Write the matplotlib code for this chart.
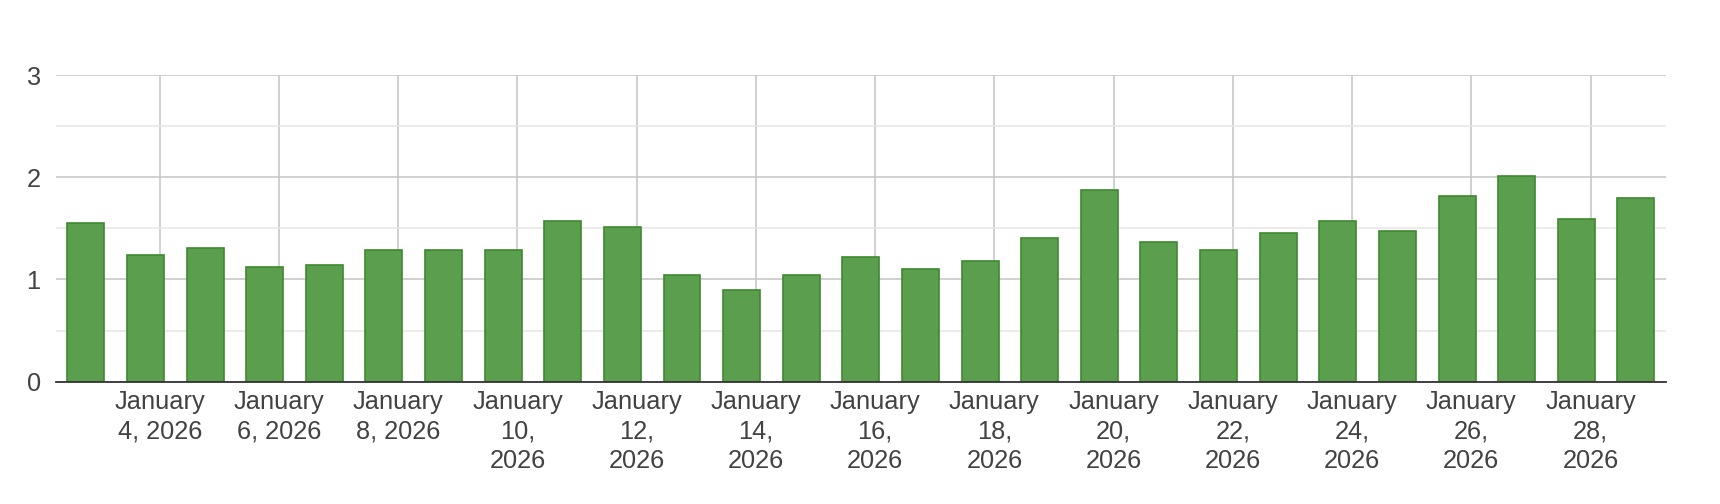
import matplotlib
matplotlib.use("Agg")
import matplotlib.pyplot as plt
from matplotlib.ticker import MultipleLocator

# data
days = list(range(3, 30))  # January 3 .. January 29, 2026
values = [1.55, 1.24, 1.31, 1.12, 1.14, 1.29, 1.29, 1.29, 1.57,
          1.51, 1.04, 0.90, 1.04, 1.22, 1.10, 1.18, 1.41, 1.88,
          1.37, 1.29, 1.45, 1.57, 1.47, 1.82, 2.01, 1.59, 1.80]
tick_days = [4, 6, 8, 10, 12, 14, 16, 18, 20, 22, 24, 26, 28]
tick_labels = ["January\n4, 2026", "January\n6, 2026", "January\n8, 2026",
               "January\n10,\n2026", "January\n12,\n2026", "January\n14,\n2026",
               "January\n16,\n2026", "January\n18,\n2026", "January\n20,\n2026",
               "January\n22,\n2026", "January\n24,\n2026", "January\n26,\n2026",
               "January\n28,\n2026"]
y_ticks = [0, 1, 2, 3]

tz_shift = 0.24  # bars sit slightly before local midnight tick marks

plt.rcParams['font.family'] = ['Liberation Sans', 'DejaVu Sans']

fig = plt.figure(figsize=(17.2, 5.04), dpi=100)
ax = fig.add_axes([56/1720, 1-381.7/504, (1665.7-56)/1720, (381.7-75)/504])

xs = [d - tz_shift for d in days]
ax.bar(xs, values, width=0.62, color='#5b9e4d', edgecolor='#3d8a2f',
       linewidth=1.2, zorder=3)

ax.set_xlim(xs[0] - 0.5, xs[-1] + 0.5)
ax.set_ylim(0, 3)
ax.set_yticks(y_ticks)
ax.set_yticklabels([str(t) for t in y_ticks])
ax.yaxis.set_minor_locator(MultipleLocator(0.5))
ax.set_xticks(tick_days)
ax.set_xticklabels(tick_labels, linespacing=1.3)

ax.grid(which='major', axis='both', color='#c4c4c4', linewidth=1.1, zorder=0)
ax.grid(which='minor', axis='y', color='#e6e6e6', linewidth=1.1, zorder=0)
ax.set_axisbelow(True)

for s in ['top', 'right', 'left']:
    ax.spines[s].set_visible(False)
ax.spines['bottom'].set_color('#333333')
ax.spines['bottom'].set_linewidth(1.3)
ax.spines['bottom'].set_zorder(4)

ax.tick_params(axis='both', which='both', length=0, colors='#424242',
               labelsize=18.3)
ax.tick_params(axis='x', pad=6)
ax.tick_params(axis='y', pad=11)
for lbl in ax.get_xticklabels():
    lbl.set_verticalalignment('top')

fig.savefig('out.png', dpi=100, facecolor='white')
